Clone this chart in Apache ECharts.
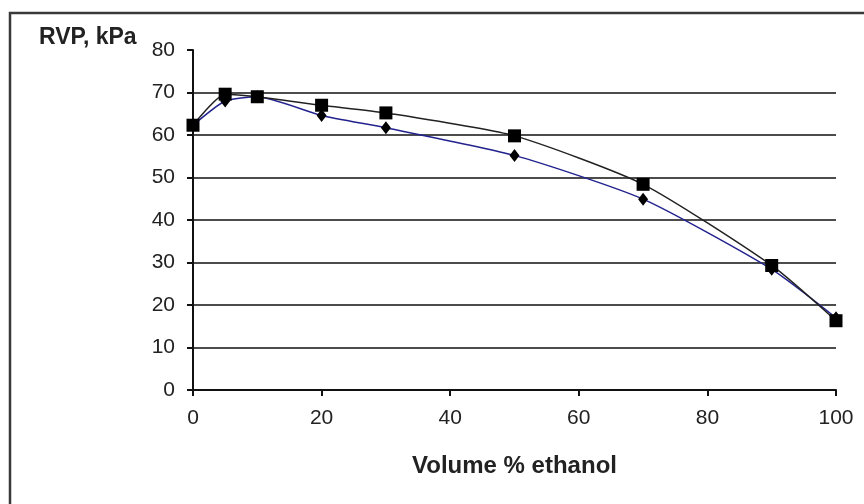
<!DOCTYPE html>
<html>
<head>
<meta charset="utf-8">
<script src="https://cdn.jsdelivr.net/npm/echarts@6/dist/echarts.min.js"></script>
<style>
html,body{margin:0;padding:0;background:#fff;}
#c{width:864px;height:504px;}
</style>
</head>
<body>
<div id="c"></div>
<script>
var ethanolPct = [0, 5, 10, 20, 30, 50, 70, 90, 100];
var rvpSquares = [62.3, 69.6, 69.0, 67.0, 65.2, 59.8, 48.4, 29.3, 16.3];
var rvpDiamonds = [62.3, 68.0, 69.0, 64.6, 61.7, 55.2, 44.9, 28.4, 17.0];
var yTicks = [0, 10, 20, 30, 40, 50, 60, 70, 80];
var xTicks = [0, 20, 40, 60, 80, 100];

function pairs(xs, ys) { return xs.map(function (x, i) { return [x, ys[i]]; }); }

var chart = echarts.init(document.getElementById('c'), null, {renderer: 'canvas'});
var font = '"Liberation Sans", Arial, sans-serif';
chart.setOption({
  animation: false,
  backgroundColor: '#fff',
  grid: {left: 193, right: 28, top: 50, bottom: 114, containLabel: false},
  graphic: [
    {type: 'rect', shape: {x: 10, y: 13, width: 900, height: 600},
     style: {fill: 'none', stroke: '#3a3a3a', lineWidth: 2.5}, z: 0},
    {type: 'text', left: 39, top: 26,
     style: {text: 'RVP, kPa', font: 'bold 23px ' + font, fill: '#222'}}
  ],
  xAxis: {
    type: 'value', min: 0, max: 100, interval: 20,
    name: 'Volume % ethanol', nameLocation: 'middle', nameGap: 64,
    nameTextStyle: {fontFamily: font, fontWeight: 'bold', fontSize: 24, color: '#222'},
    axisLine: {lineStyle: {color: '#111', width: 2}},
    axisTick: {show: true, length: 6, lineStyle: {color: '#111', width: 2}},
    axisLabel: {fontFamily: font, fontSize: 21, color: '#222', margin: 18,
      formatter: function (v) { return xTicks.indexOf(v) >= 0 ? String(v) : ''; }},
    splitLine: {show: false}
  },
  yAxis: {
    type: 'value', min: 0, max: 80, interval: 10,
    axisLine: {show: true, lineStyle: {color: '#111', width: 2}},
    axisTick: {show: true, length: 6, lineStyle: {color: '#111', width: 2}},
    axisLabel: {fontFamily: font, fontSize: 21, color: '#222', margin: 18,
      formatter: function (v) { return yTicks.indexOf(v) >= 0 ? String(v) : ''; }},
    splitLine: {show: true, showMaxLine: false, showMinLine: false, lineStyle: {color: '#111', width: 1.5}}
  },
  series: [
    {
      type: 'line', data: pairs(ethanolPct, rvpDiamonds), smooth: 0.2,
      symbol: 'diamond', symbolSize: [10, 13],
      lineStyle: {color: '#23238f', width: 1.5},
      itemStyle: {color: '#000', borderWidth: 0}, z: 3
    },
    {
      type: 'line', data: pairs(ethanolPct, rvpSquares), smooth: 0.2,
      symbol: 'rect', symbolSize: 13,
      lineStyle: {color: '#222', width: 1.5},
      itemStyle: {color: '#000', borderWidth: 0}, z: 4
    }
  ]
});
</script>
</body>
</html>
